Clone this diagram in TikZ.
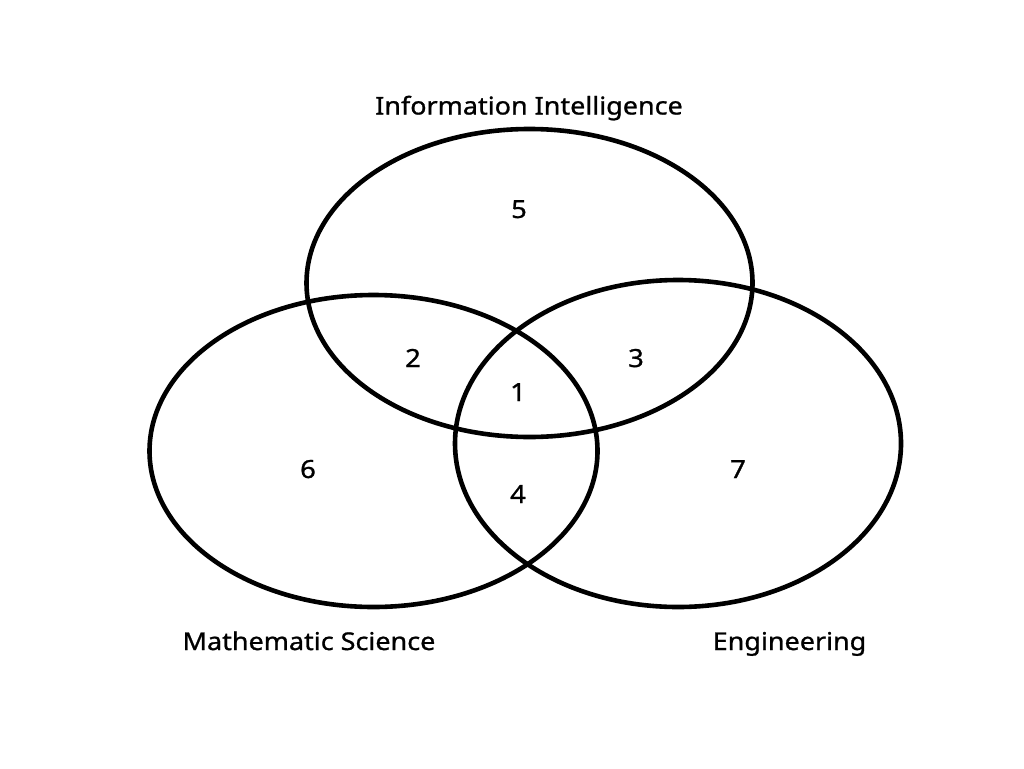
\documentclass[tikz,border=0pt]{standalone}
\usepackage{fontspec}
\setmainfont{Noto Sans}[FakeStretch=1.1,FakeBold=1.0]
\begin{document}
\begin{tikzpicture}[x=1pt,y=-1pt,
  venn/.style={draw=black,line width=4.6pt},
  lab/.style={font=\fontsize{24.5}{28}\selectfont,inner sep=0pt,anchor=base},
  num/.style={font=\fontsize{25}{28}\selectfont,inner sep=0pt,anchor=base}]
\useasboundingbox[fill=white] (0,0) rectangle (1024,768);
\draw[venn] (529.5,283) ellipse [x radius=223,y radius=154];
\draw[venn] (373.5,451) ellipse [x radius=224,y radius=156];
\draw[venn] (678,443.5) ellipse [x radius=223,y radius=163.5];
\node[lab] (ii) at (529,114.5) {Information Intelligence};
\node[lab] (ms) at (309,650) {Mathematic Science};
\node[lab] (en) at (789.5,650) {Engineering};
\node[num] (n5) at (519,218) {5};
\node[num] (n2) at (413,367) {2};
\node[num] (n1) at (518,401) {1};
\node[num] (n3) at (636,367) {3};
\node[num] (n6) at (308,478) {6};
\node[num] (n4) at (518,503) {4};
\node[num] (n7) at (738,478) {7};
\end{tikzpicture}
\end{document}
